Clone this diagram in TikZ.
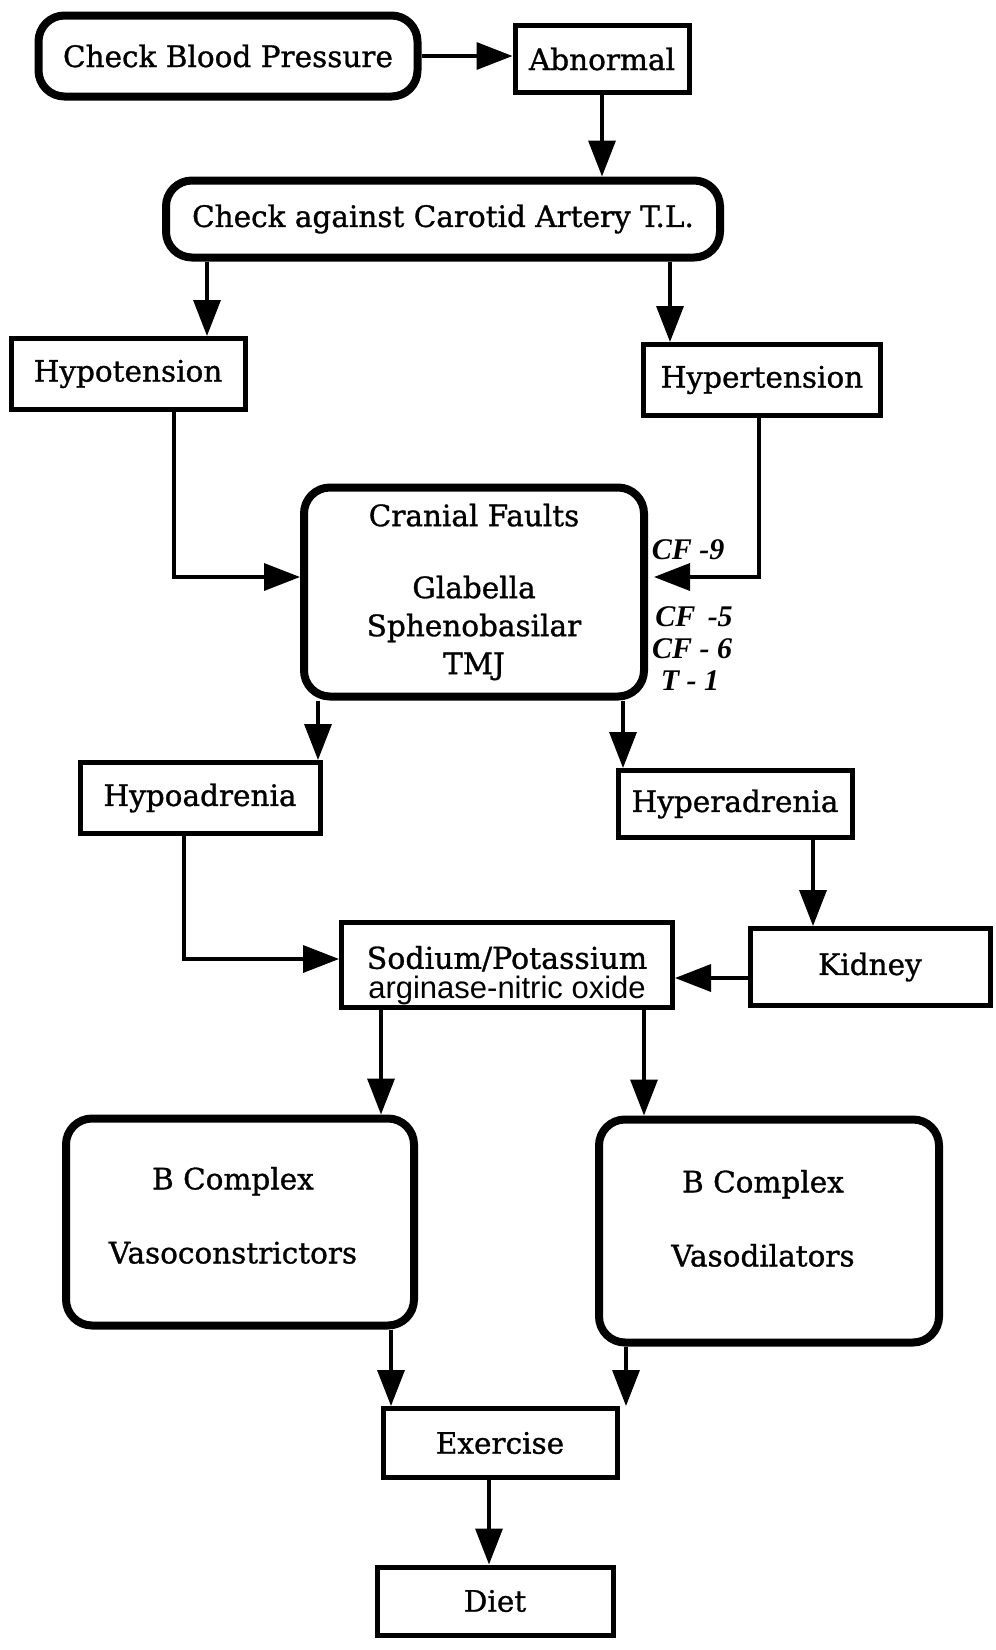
\documentclass[tikz,border=0pt]{standalone}
\usepackage{fontspec}
\setmainfont{DejaVu Serif}[FakeBold=1]
\newfontfamily\cflabel{Liberation Serif}
\newfontfamily\plainsans{Liberation Sans}
\usetikzlibrary{arrows.meta}
% a centred block of lines with no height or depth, raised by #1 from the box centre
\newcommand{\stackedtext}[2]{\raisebox{#1}[0pt][0pt]{\begin{tabular}{@{}c@{}}#2\end{tabular}}}
\begin{document}
\begin{tikzpicture}[x=1pt,y=-1pt,
  every node/.style={font=\fontsize{29.5}{38}\selectfont, inner sep=0pt, align=center},
  roundbox/.style={draw, line width=8pt, rounded corners=26pt},
  sqbox/.style={draw, line width=5pt},
  conn/.style={line width=3.5pt, -{Triangle[length=36pt,width=27pt]}},
  cftag/.style={font=\cflabel\bfseries\itshape\fontsize{30}{32}\selectfont}]
  \fill[white] (0,0) rectangle (996,1650);
  \useasboundingbox (0,0) rectangle (996,1650);

  % boxes
  \node[roundbox, minimum width=379pt, minimum height=81pt] (cbp) at (228,56) {Check Blood Pressure};
  \node[sqbox, minimum width=174pt, minimum height=67pt] (abn) at (602,59) {Abnormal};
  \node[roundbox, minimum width=554pt, minimum height=77pt] (chk) at (443,219) {Check against Carotid Artery T.L.};
  \node[sqbox, minimum width=234pt, minimum height=71pt] (hypo) at (128,374) {Hypotension};
  \node[sqbox, minimum width=237pt, minimum height=71pt] (hyper) at (762,380) {Hypertension};
  \node[roundbox, minimum width=340pt, minimum height=209pt] (cran) at (474,592)
    {Cranial Faults\\[34pt]Glabella\\Sphenobasilar\\TMJ};
  \node[sqbox, minimum width=240pt, minimum height=71pt] (hypoad) at (200,798) {Hypoadrenia};
  \node[sqbox, minimum width=234pt, minimum height=67pt] (hyperad) at (735,804) {Hyperadrenia};
  \node[sqbox, minimum width=240pt, minimum height=77pt] (kid) at (870,967) {Kidney};
  \node[sqbox, minimum width=331pt, minimum height=85pt, font=\fontsize{30}{29}\selectfont] (nak) at (507,965)
    {\stackedtext{-18pt}{Sodium/Potassium\\[-1pt]{\plainsans\fontsize{31}{29}\selectfont arginase-nitric oxide}}};
  \node[roundbox, minimum width=348pt, minimum height=207pt] (vcon) at (240,1222)
    {\stackedtext{-3pt}{B Complex\\[36pt]Vasoconstrictors}\hspace{14pt}};
  \node[roundbox, minimum width=340pt, minimum height=223pt] (vdil) at (769,1231)
    {\stackedtext{3pt}{B Complex\\[36pt]Vasodilators}\hspace{12pt}};
  \node[sqbox, minimum width=234pt, minimum height=69pt] (exer) at (500,1443) {Exercise};
  \node[sqbox, minimum width=236pt, minimum height=68pt] (diet) at (495,1601) {Diet};

  % labels beside the cranial box
  \node[cftag] (cf9) at (688,550) {CF -9};
  \node[cftag] (cf5) at (694,617) {CF \,-5};
  \node[cftag] (cf6) at (692,649) {CF - 6};
  \node[cftag] (t1) at (690,681) {T - 1};

  % connectors
  \draw[conn] (cbp.east) -- (abn.west |- cbp.east);
  \draw[conn] (abn.south) -- (abn.south |- chk.north);
  \draw[conn] (chk.south -| 207,0) -- (hypo.north -| 207,0);
  \draw[conn] (chk.south -| 670,0) -- (hyper.north -| 670,0);
  \draw[conn] (hypo.south -| 174,0) |- (cran.west |- 0,577);
  \draw[conn, shorten >=6pt] (hyper.south -| 759,0) |- (cran.east |- 0,577);
  \draw[conn] (cran.south -| 318,0) -- (hypoad.north -| 318,0);
  \draw[conn] (cran.south -| 623,0) -- (hyperad.north -| 623,0);
  \draw[conn] (hypoad.south -| 184,0) |- (nak.west |- 0,959);
  \draw[conn] (hyperad.south -| 813,0) -- (kid.north -| 813,0);
  \draw[conn] (kid.west |- 0,978) -- (nak.east |- 0,978);
  \draw[conn] (nak.south -| 381,0) -- (vcon.north -| 381,0);
  \draw[conn] (nak.south -| 644,0) -- (vdil.north -| 644,0);
  \draw[conn] (vcon.south -| 391,0) -- (exer.north -| 391,0);
  \draw[conn] (vdil.south -| 626,0) -- (exer.north -| 626,0);
  \draw[conn] (exer.south -| 489,0) -- (diet.north -| 489,0);
\end{tikzpicture}
\end{document}
